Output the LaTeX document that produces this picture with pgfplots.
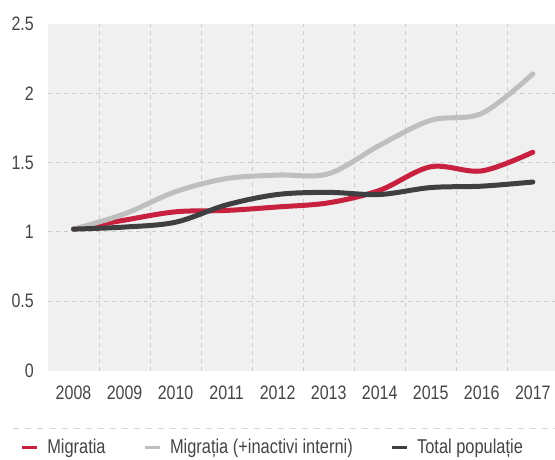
\documentclass[border=0pt]{standalone}
\usepackage{fontspec}
\setmainfont{Liberation Sans}[FakeStretch=0.82]
\usepackage{pgfplots}
\pgfplotsset{compat=1.18}

\definecolor{migred}{HTML}{C8203F}
\definecolor{miggray}{HTML}{BFBFBF}
\definecolor{totdark}{HTML}{3F3F41}
\definecolor{plotbg}{HTML}{F0F0F0}
\definecolor{gridc}{HTML}{CCCCCC}
\definecolor{txt}{HTML}{454545}

\begin{document}
\fontsize{19}{22}\selectfont
\begin{tikzpicture}
  % page size 555x459 (1pt = 1px), plot area 507x346.5
  \useasboundingbox (-48pt,-88.5pt) rectangle (507pt,370.5pt);
  \draw[gridc!80, line width=1pt, dash pattern=on 6pt off 6pt] (-34.5pt,-57.5pt) -- (507pt,-57.5pt);
  \begin{axis}[
    at={(0,0)}, anchor=south west,
    scale only axis, width=507pt, height=346.5pt,
    xmin=-0.5, xmax=9.435, ymin=0, ymax=2.5,
    axis line style={draw=none},
    axis background/.style={fill=plotbg},
    xtick={0,...,9},
    xticklabels={2008,2009,2010,2011,2012,2013,2014,2015,2016,2017},
    ytick={0,0.5,1,1.5,2,2.5},
    yticklabels={0,0.5,1,1.5,2,2.5},
    minor xtick={0.5,1.5,...,8.5},
    minor ytick={0.5,1,1.5,2},
    xminorgrids, yminorgrids,
    minor grid style={gridc, line width=1pt, dash pattern=on 4pt off 4pt},
    major tick length=0pt, minor tick length=0pt,
    /pgf/number format/assume math mode=true,
    tick label style={font=\fontsize{19.5}{22}\selectfont, text=txt, inner sep=0pt},
    xticklabel style={anchor=north, yshift=-15.5pt},
    yticklabel style={anchor=east, xshift=-14pt},
    legend columns=3,
    legend style={draw=none, fill=none, at={(-27.3pt,-66pt)}, anchor=north west,
      font=\fontsize{20}{22}\selectfont, text=txt, inner sep=0pt,
      /tikz/every odd column/.append style={column sep=6.4pt},
      /tikz/every even column/.append style={column sep=36pt}},
    legend cell align=left,
    legend image code/.code={\draw[line width=3pt, line cap=butt] (0pt,0pt) -- (15pt,0pt);},
    every axis plot/.append style={line width=5pt, line cap=round, smooth, tension=0.55},
  ]
    \addplot[migred] coordinates {
      (0,1.02)(1,1.085)(2,1.145)(3,1.155)(4,1.18)(5,1.21)(6,1.30)(7,1.47)(8,1.44)(9,1.575)};
    \addplot[miggray] coordinates {
      (0,1.02)(1,1.13)(2,1.29)(3,1.385)(4,1.41)(5,1.42)(6,1.625)(7,1.805)(8,1.855)(9,2.14)};
    \addplot[totdark] coordinates {
      (0,1.02)(1,1.035)(2,1.07)(3,1.195)(4,1.27)(5,1.285)(6,1.27)(7,1.32)(8,1.33)(9,1.36)};
    \legend{Migratia, Migrația (+inactivi interni), Total populație}
  \end{axis}
\end{tikzpicture}
\end{document}
